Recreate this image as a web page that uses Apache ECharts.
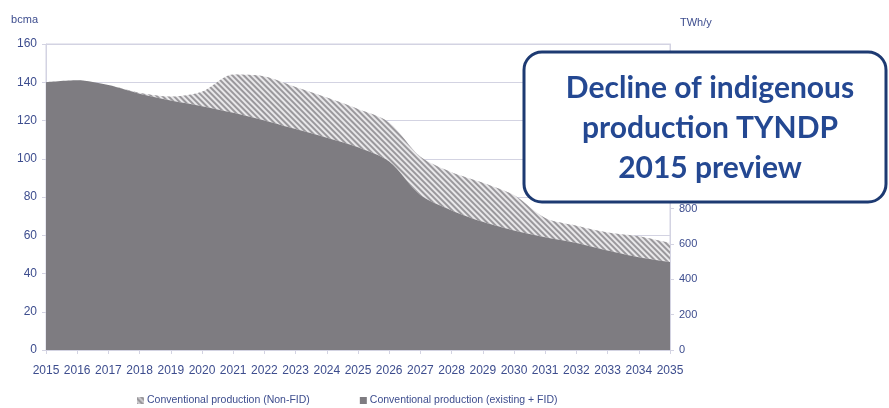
<!DOCTYPE html>
<html>
<head>
<meta charset="utf-8">
<script src="https://cdn.jsdelivr.net/npm/echarts@6/dist/echarts.min.js"></script>
<style>
  html, body { margin: 0; padding: 0; background: #ffffff; }
  #chart { width: 889px; height: 408px; }
</style>
</head>
<body>
<div id="chart"></div>
<script>
// Years on the category axis
const years = ['2015', '2016', '2017', '2018', '2019', '2020', '2021', '2022', '2023', '2024', '2025',
    '2026', '2027', '2028', '2029', '2030', '2031', '2032', '2033', '2034', '2035'];

// Conventional production (existing + FID), bcma
const existingFid = [140, 141, 138.5, 134, 130.5, 127.5, 124, 120, 115.5, 111, 106,
    98.5, 81, 73, 67, 62.5, 59, 56, 52, 48.5, 46];

// Conventional production (Non-FID), stacked on top, bcma
const nonFid = [0, 0, 0, 0.5, 2, 7.5, 20, 23, 22, 21, 20,
    20.5, 20, 20, 20.5, 18.5, 10, 9, 9.5, 11, 10];

const leftTicks = { min: 0, max: 160, interval: 20 };
const rightTicks = { min: 0, max: 1730, interval: 200 };

const textColor = '#3d4d8e';
const gridColor = '#d3d3e2';
const fontFamily = "'Liberation Sans', sans-serif";

const hatch = {
    symbol: 'rect',
    color: '#9a989c',
    dashArrayX: [1, 0],
    dashArrayY: [1.4, 1.6],
    rotation: Math.PI / 4
};

const chart = echarts.init(document.getElementById('chart'));

const option = {
    backgroundColor: '#ffffff',
    animation: false,
    textStyle: { fontFamily: fontFamily },
    grid: {
        left: 46,
        right: 219,
        top: 44,
        bottom: 58,
        show: true,
        borderColor: gridColor,
        borderWidth: 1
    },
    legend: {
        bottom: -3,
        left: 132,
        itemGap: 50,
        itemWidth: 7,
        itemHeight: 7,
        icon: 'rect',
        textStyle: { color: textColor, fontSize: 10.5, fontFamily: fontFamily, padding: [0, 0, 0, -2] },
        data: ['Conventional production (Non-FID)', 'Conventional production (existing + FID)']
    },
    xAxis: {
        type: 'category',
        data: years,
        boundaryGap: false,
        axisLine: { lineStyle: { color: gridColor } },
        axisTick: { show: true, alignWithLabel: true, length: 4, lineStyle: { color: gridColor } },
        axisLabel: { color: textColor, fontSize: 12, margin: 15, interval: 0 },
        splitLine: { show: false }
    },
    yAxis: [
        {
            type: 'value',
            name: 'bcma',
            nameLocation: 'end',
            nameGap: 19,
            nameTextStyle: { color: textColor, fontSize: 11, align: 'right', padding: [0, 8, 0, 0] },
            min: leftTicks.min,
            max: leftTicks.max,
            interval: leftTicks.interval,
            axisLine: { show: true, lineStyle: { color: gridColor } },
            axisTick: { show: true, length: 4, lineStyle: { color: gridColor } },
            axisLabel: { color: textColor, fontSize: 12, margin: 9 },
            splitLine: { lineStyle: { color: gridColor, width: 1 } }
        },
        {
            type: 'value',
            name: 'TWh/y',
            nameLocation: 'end',
            nameGap: 16,
            nameTextStyle: { color: textColor, fontSize: 11, align: 'left', padding: [0, 0, 0, 10] },
            min: rightTicks.min,
            max: rightTicks.max,
            interval: rightTicks.interval,
            position: 'right',
            axisLine: { show: true, lineStyle: { color: gridColor } },
            axisTick: { show: true, length: 4, lineStyle: { color: gridColor } },
            axisLabel: { color: textColor, fontSize: 11, margin: 9, showMaxLabel: false },
            splitLine: { show: false }
        }
    ],
    series: [
        {
            name: 'Conventional production (existing + FID)',
            type: 'line',
            stack: 'prod',
            smooth: 0.3,
            symbol: 'none',
            lineStyle: { width: 0 },
            itemStyle: { color: '#7e7c81' },
            areaStyle: { color: '#7e7c81', opacity: 1 },
            data: existingFid,
            z: 3
        },
        {
            name: 'Conventional production (Non-FID)',
            type: 'line',
            stack: 'prod',
            smooth: 0.3,
            symbol: 'none',
            lineStyle: { width: 0 },
            itemStyle: { color: '#c9c8cb', decal: hatch },
            areaStyle: { color: '#e9e8ea', opacity: 1, decal: hatch },
            data: nonFid,
            z: 2
        }
    ],
    graphic: [
        {
            type: 'rect',
            z: 100,
            shape: { x: 524, y: 52, width: 362, height: 150, r: 18 },
            style: { fill: '#ffffff', stroke: '#1d3a72', lineWidth: 3 }
        },
        {
            type: 'text',
            z: 101,
            x: 710,
            y: 128,
            style: {
                text: 'Decline of indigenous\nproduction TYNDP\n2015 preview',
                fill: '#244892',
                font: "bold 30px Lato, 'Open Sans', sans-serif",
                lineHeight: 40,
                align: 'center',
                verticalAlign: 'middle'
            }
        }
    ]
};

chart.setOption(option);
</script>
</body>
</html>
